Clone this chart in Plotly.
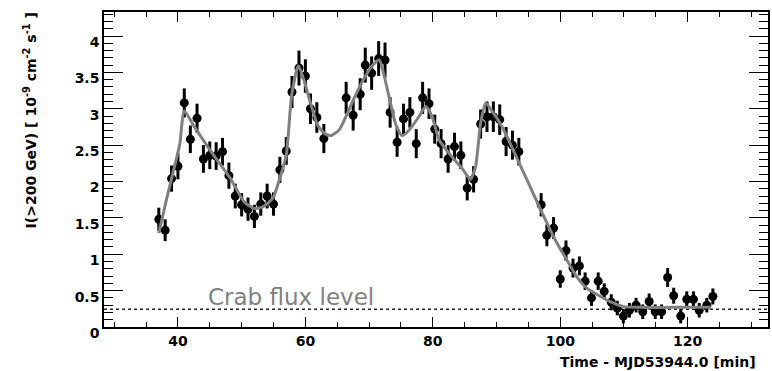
import plotly.graph_objects as go

# Integral flux light curve, I(>200 GeV), one-minute bins
time_min = [37.0, 38.0, 39.0, 40.0, 41.0, 41.95, 43.0, 44.0, 45.0, 46.0,
            47.0, 48.0, 49.0, 50.0, 51.0, 52.0, 53.0, 54.0, 55.0, 56.0,
            57.0, 57.9, 59.0, 60.0, 60.8, 61.8, 62.9, 66.4, 67.5, 68.6,
            69.4, 70.4, 71.5, 72.5, 73.3, 74.4, 75.4, 76.4, 77.4, 78.4,
            79.4, 80.3, 81.3, 82.4, 83.4, 84.4, 85.4, 86.4, 87.5, 88.5,
            89.5, 90.5, 91.5, 92.5, 93.5, 97.0, 97.9, 98.95, 100.0, 100.9,
            102.0, 103.0, 103.9, 104.9, 105.95, 106.9, 108.0, 108.95, 109.9, 110.85,
            111.9, 112.95, 113.95, 114.9, 115.9, 116.85, 117.8, 118.9, 119.85, 120.9,
            121.8, 123.0, 123.95]
flux = [1.48, 1.33, 2.04, 2.21, 3.08, 2.58, 2.87, 2.31, 2.36, 2.35,
        2.41, 2.08, 1.80, 1.68, 1.62, 1.52, 1.69, 1.80, 1.69, 2.16,
        2.42, 3.23, 3.56, 3.45, 3.00, 2.88, 2.59, 3.15, 2.91, 3.20,
        3.60, 3.49, 3.69, 3.67, 2.95, 2.54, 2.86, 2.95, 2.52, 3.15,
        3.07, 2.72, 2.52, 2.31, 2.48, 2.36, 1.91, 2.03, 2.79, 2.89,
        2.89, 2.85, 2.55, 2.50, 2.41, 1.68, 1.26, 1.36, 0.66, 1.05,
        0.81, 0.84, 0.63, 0.40, 0.63, 0.49, 0.34, 0.26, 0.15, 0.23,
        0.30, 0.21, 0.35, 0.21, 0.21, 0.68, 0.43, 0.15, 0.38, 0.38,
        0.23, 0.30, 0.42]
flux_err = [0.16, 0.15, 0.18, 0.18, 0.20, 0.19, 0.20, 0.19, 0.19, 0.19,
            0.19, 0.18, 0.17, 0.16, 0.16, 0.16, 0.16, 0.17, 0.16, 0.18,
            0.19, 0.22, 0.24, 0.23, 0.21, 0.21, 0.20, 0.22, 0.21, 0.22,
            0.24, 0.23, 0.24, 0.24, 0.21, 0.20, 0.21, 0.21, 0.20, 0.22,
            0.21, 0.20, 0.20, 0.19, 0.19, 0.19, 0.17, 0.18, 0.20, 0.21,
            0.21, 0.21, 0.20, 0.20, 0.19, 0.16, 0.15, 0.15, 0.12, 0.14,
            0.13, 0.13, 0.12, 0.11, 0.12, 0.11, 0.11, 0.10, 0.10, 0.10,
            0.10, 0.10, 0.11, 0.10, 0.10, 0.13, 0.11, 0.10, 0.11, 0.11,
            0.10, 0.10, 0.11]

# Burst-model fit curve
fit_time = [37.0, 38.2, 39.2, 40.3, 41.0, 42.6, 45.2, 48.1, 50.4, 52.0,
            53.3, 54.9, 55.9, 57.0, 57.85, 58.9, 59.85, 60.9, 61.9, 63.0,
            64.0, 65.3, 66.6, 67.9, 69.5, 70.8, 71.6, 72.35, 73.3, 74.2,
            75.2, 76.5, 77.8, 78.9, 79.9, 81.0, 83.0, 84.6, 85.9, 86.7,
            87.5, 88.3, 89.05, 90.9, 93.2, 95.0, 97.1, 99.2, 101.3, 102.6,
            104.2, 106.3, 108.3, 109.9, 112.5, 117.7, 123.7]
fit_flux = [1.29, 1.75, 2.11, 2.52, 2.97, 2.75, 2.41, 2.06, 1.72, 1.63,
            1.65, 1.77, 2.02, 2.36, 3.19, 3.59, 3.37, 3.05, 2.78, 2.66,
            2.63, 2.71, 2.94, 3.19, 3.46, 3.62, 3.67, 3.46, 3.10, 2.78,
            2.63, 2.73, 2.89, 3.03, 2.89, 2.57, 2.34, 2.18, 2.03, 2.20,
            2.80, 3.08, 3.00, 2.75, 2.32, 1.98, 1.58, 1.20, 0.88, 0.69,
            0.53, 0.42, 0.33, 0.28, 0.27, 0.27, 0.27]

crab_level = 0.245
x_range = [28.4, 132.6]
y_range = [0.0, 4.33]

fig = go.Figure()

# Crab reference level
fig.add_trace(go.Scatter(
    x=x_range, y=[crab_level, crab_level], mode="lines",
    line=dict(color="#222222", width=1.5, dash="dot"), hoverinfo="skip"))

# Measured points with statistical errors
fig.add_trace(go.Scatter(
    x=time_min, y=flux, mode="markers",
    marker=dict(color="black", size=9, symbol="circle"),
    error_y=dict(type="data", array=flux_err, color="black", thickness=3, width=0)))

# Fit curve
fig.add_trace(go.Scatter(
    x=fit_time, y=fit_flux, mode="lines",
    line=dict(color="#808080", width=3, shape="spline", smoothing=0.6),
    hoverinfo="skip"))

tick_font = dict(family="DejaVu Sans, Verdana, sans-serif", size=14, color="black", weight=700)

fig.update_xaxes(
    range=x_range, tick0=0, dtick=20, ticks="inside", ticklen=10, tickwidth=1,
    tickcolor="black", showline=True, linecolor="black", linewidth=1.5,
    mirror="allticks", showgrid=False, zeroline=False, tickfont=tick_font,
    minor=dict(dtick=5, tick0=0, ticks="inside", ticklen=5, tickcolor="black", tickwidth=1))
fig.update_yaxes(
    range=y_range, tick0=0, dtick=0.5, ticks="inside", ticklen=19, tickwidth=1,
    tickcolor="black", showline=True, linecolor="black", linewidth=1.5,
    mirror="allticks", showgrid=False, zeroline=False, tickfont=tick_font,
    ticklabelshift=6,
    minor=dict(dtick=0.1, tick0=0, ticks="inside", ticklen=9, tickcolor="black", tickwidth=1))

fig.add_annotation(
    text="Crab flux level", x=44.4, y=crab_level, xref="x", yref="y",
    xanchor="left", yanchor="bottom", showarrow=False, yshift=-3,
    font=dict(family="DejaVu Sans", size=23, color="#808080"))

fig.add_annotation(
    text="Time - MJD53944.0 [min]", x=1.0, y=0, xref="paper", yref="paper",
    xanchor="right", yanchor="middle", showarrow=False, xshift=-10, yshift=-35,
    font=tick_font)

fig.add_annotation(
    text="I(&gt;200 GeV) [ 10<sup>-9</sup> cm<sup>-2</sup> s<sup>-1</sup> ]",
    x=-0.111, y=1.006, xref="paper", yref="paper", textangle=-90,
    xanchor="center", yanchor="top", showarrow=False, font=tick_font)

fig.update_layout(
    width=772, height=371, margin=dict(l=104, r=2, t=12, b=44),
    plot_bgcolor="white", paper_bgcolor="white", showlegend=False)

fig.write_html("out.html")
